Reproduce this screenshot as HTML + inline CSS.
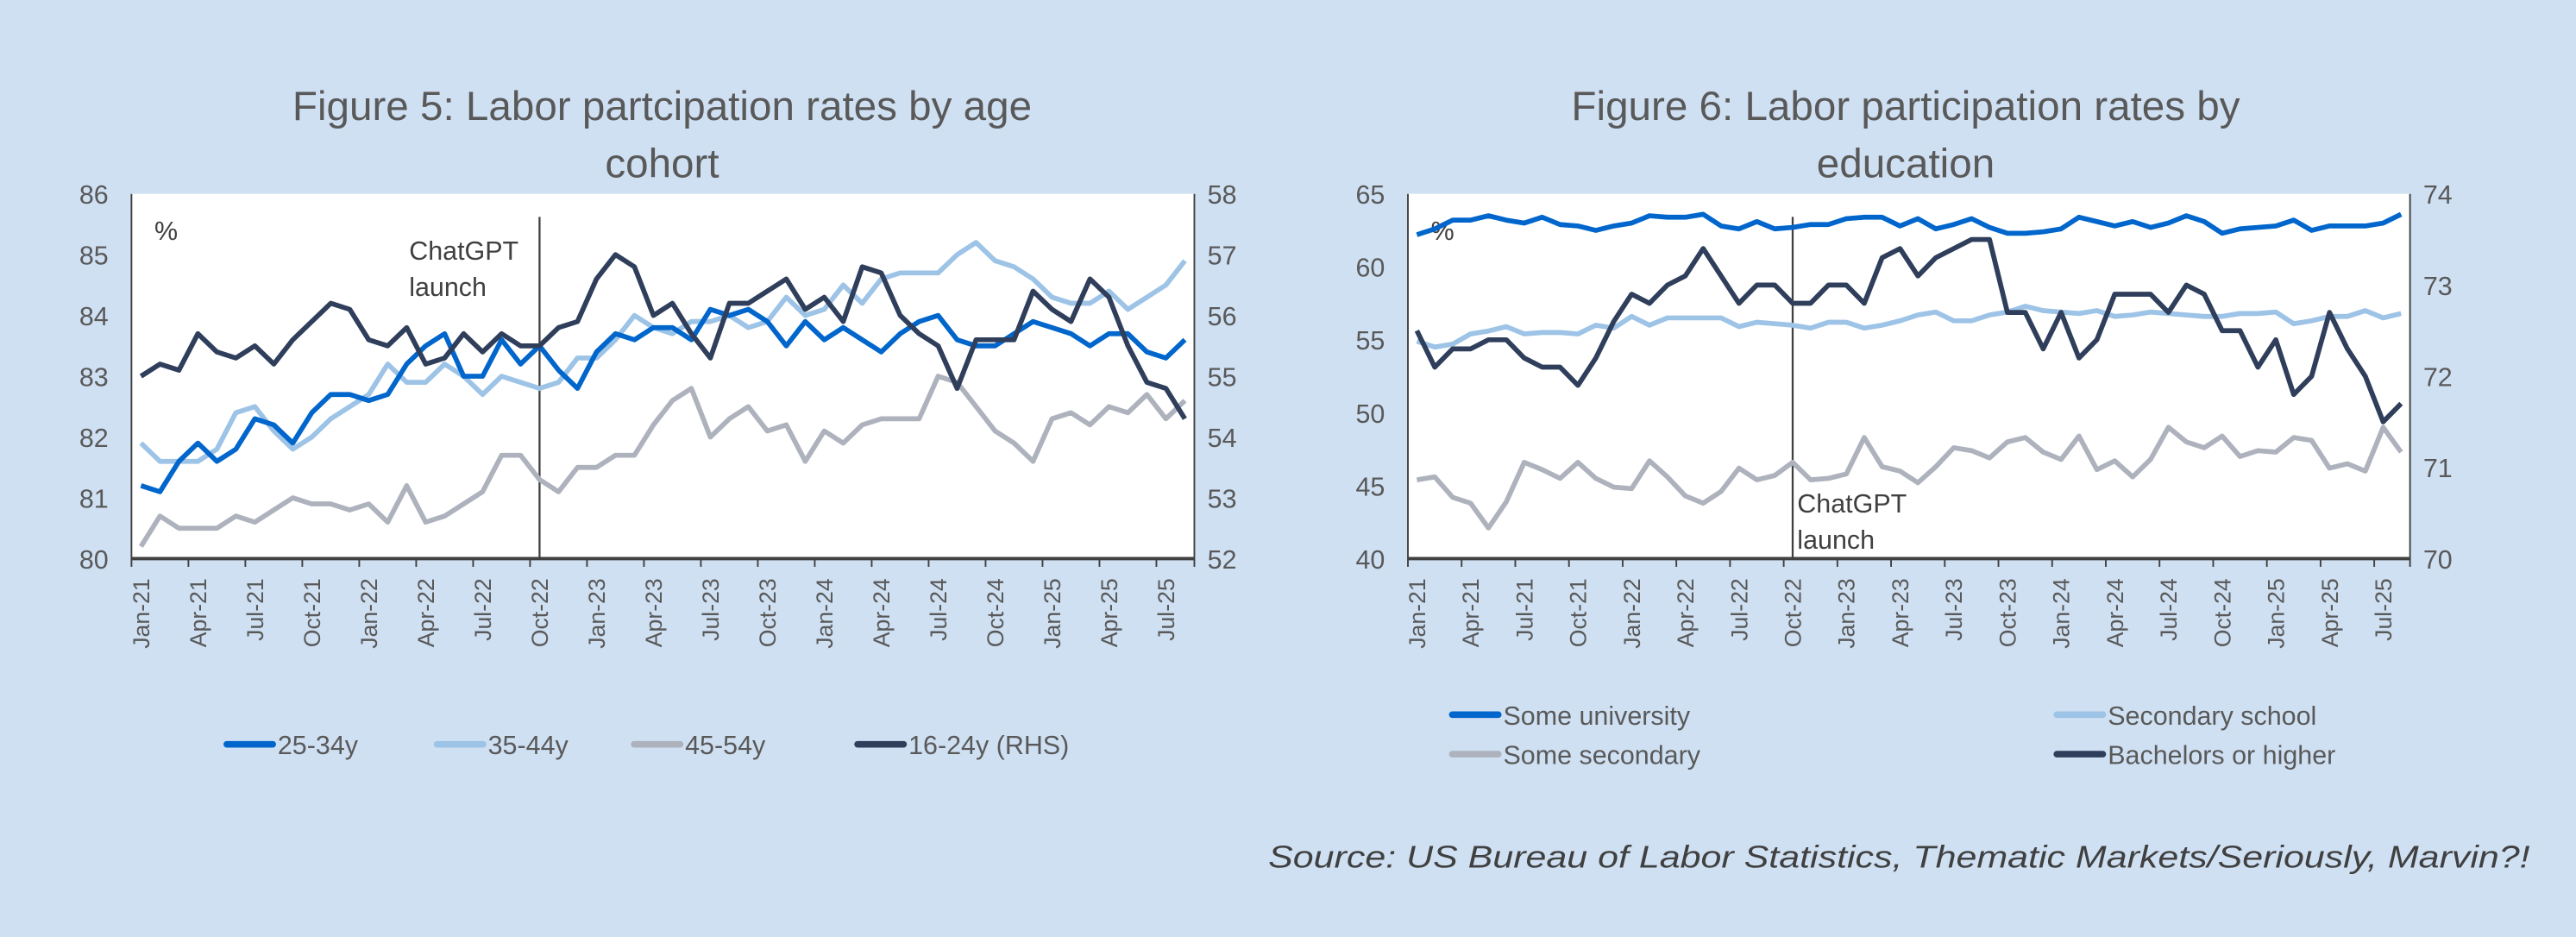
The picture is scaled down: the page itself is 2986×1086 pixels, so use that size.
<!DOCTYPE html>
<html><head><meta charset="utf-8"><style>
html,body{margin:0;padding:0;background:#cfe0f3;}
svg{display:block;font-family:"Liberation Sans",sans-serif;}
</style></head><body>
<svg id="fig" width="2986" height="1086" viewBox="0 0 1568 570.3" xmlns="http://www.w3.org/2000/svg">
<rect x="0" y="0" width="1568" height="570.3" fill="#cfe0f3"/>
<text x="403" y="73" text-anchor="middle" font-size="25" fill="#595959">Figure 5: Labor partcipation rates by age</text>
<text x="403" y="108" text-anchor="middle" font-size="25" fill="#595959">cohort</text>
<text x="1160" y="73" text-anchor="middle" font-size="25" fill="#595959">Figure 6: Labor participation rates by</text>
<text x="1160" y="108" text-anchor="middle" font-size="25" fill="#595959">education</text>
<g id="c1"></g>
<g id="c2"></g>
<text x="1540" y="528" text-anchor="end" font-size="19" font-style="italic" fill="#404040" textLength="768" lengthAdjust="spacingAndGlyphs">Source: US Bureau of Labor Statistics, Thematic Markets/Seriously, Marvin?!</text>
</svg>
<script>
const months = ["Jan","Feb","Mar","Apr","May","Jun","Jul","Aug","Sep","Oct","Nov","Dec"];
const categories = [];
for (let y = 21; y <= 25; y++) for (let m = 0; m < 12; m++) { if (y === 25 && m > 7) break; categories.push(months[m] + "-" + y); }
const age2534 = [81.2,81.1,81.6,81.9,81.6,81.8,82.3,82.2,81.9,82.4,82.7,82.7,82.6,82.7,83.2,83.5,83.7,83.0,83.0,83.6,83.2,83.5,83.1,82.8,83.4,83.7,83.6,83.8,83.8,83.6,84.1,84.0,84.1,83.9,83.5,83.9,83.6,83.8,83.6,83.4,83.7,83.9,84.0,83.6,83.5,83.5,83.7,83.9,83.8,83.7,83.5,83.7,83.7,83.4,83.3,83.6];
const age3544 = [81.9,81.6,81.6,81.6,81.8,82.4,82.5,82.1,81.8,82.0,82.3,82.5,82.7,83.2,82.9,82.9,83.2,83.0,82.7,83.0,82.9,82.8,82.9,83.3,83.3,83.6,84.0,83.8,83.7,83.9,83.9,84.0,83.8,83.9,84.3,84.0,84.1,84.5,84.2,84.6,84.7,84.7,84.7,85.0,85.2,84.9,84.8,84.6,84.3,84.2,84.2,84.4,84.1,84.3,84.5,84.9];
const age4554 = [80.2,80.7,80.5,80.5,80.5,80.7,80.6,80.8,81.0,80.9,80.9,80.8,80.9,80.6,81.2,80.6,80.7,80.9,81.1,81.7,81.7,81.3,81.1,81.5,81.5,81.7,81.7,82.2,82.6,82.8,82.0,82.3,82.5,82.1,82.2,81.6,82.1,81.9,82.2,82.3,82.3,82.3,83.0,82.9,82.5,82.1,81.9,81.6,82.3,82.4,82.2,82.5,82.4,82.7,82.3,82.6];
const age1624 = [55.0,55.2,55.1,55.7,55.4,55.3,55.5,55.2,55.6,55.9,56.2,56.1,55.6,55.5,55.8,55.2,55.3,55.7,55.4,55.7,55.5,55.5,55.8,55.9,56.6,57.0,56.8,56.0,56.2,55.7,55.3,56.2,56.2,56.4,56.6,56.1,56.3,55.9,56.8,56.7,56.0,55.7,55.5,54.8,55.6,55.6,55.6,56.4,56.1,55.9,56.6,56.3,55.5,54.9,54.8,54.3];
const someUniversity = [62.2,62.6,63.2,63.2,63.5,63.2,63.0,63.4,62.9,62.8,62.5,62.8,63.0,63.5,63.4,63.4,63.6,62.8,62.6,63.1,62.6,62.7,62.9,62.9,63.3,63.4,63.4,62.8,63.3,62.6,62.9,63.3,62.7,62.3,62.3,62.4,62.6,63.4,63.1,62.8,63.1,62.7,63.0,63.5,63.1,62.3,62.6,62.7,62.8,63.2,62.5,62.8,62.8,62.8,63.0,63.6];
const secondarySchool = [54.9,54.5,54.7,55.4,55.6,55.9,55.4,55.5,55.5,55.4,56.0,55.8,56.6,56.0,56.5,56.5,56.5,56.5,55.9,56.2,56.1,56.0,55.8,56.2,56.2,55.8,56.0,56.3,56.7,56.9,56.3,56.3,56.7,56.9,57.3,57.0,56.9,56.8,57.0,56.6,56.7,56.9,56.8,56.7,56.6,56.6,56.8,56.8,56.9,56.1,56.3,56.6,56.6,57.0,56.5,56.8];
const someSecondary = [45.4,45.6,44.2,43.8,42.1,43.9,46.6,46.1,45.5,46.6,45.5,44.9,44.8,46.7,45.6,44.3,43.8,44.6,46.2,45.4,45.7,46.6,45.4,45.5,45.8,48.3,46.3,46.0,45.2,46.3,47.6,47.4,46.9,48.0,48.3,47.3,46.8,48.4,46.1,46.7,45.6,46.8,49.0,48.0,47.6,48.4,47.0,47.4,47.3,48.3,48.1,46.2,46.5,46.0,49.0,47.3];
const bachelors = [72.5,72.1,72.3,72.3,72.4,72.4,72.2,72.1,72.1,71.9,72.2,72.6,72.9,72.8,73.0,73.1,73.4,73.1,72.8,73.0,73.0,72.8,72.8,73.0,73.0,72.8,73.3,73.4,73.1,73.3,73.4,73.5,73.5,72.7,72.7,72.3,72.7,72.2,72.4,72.9,72.9,72.9,72.7,73.0,72.9,72.5,72.5,72.1,72.4,71.8,72.0,72.7,72.3,72.0,71.5,71.7];
const c1LeftTicks = [80,81,82,83,84,85,86];
const c1RightTicks = [52,53,54,55,56,57,58];
const c2LeftTicks = [40,45,50,55,60,65];
const c2RightTicks = [70,71,72,73,74];
const launchIndex = 21;

const NS = "http://www.w3.org/2000/svg";
function mk(parent, tag, attrs, text) {
  const e = document.createElementNS(NS, tag);
  for (const k in attrs) e.setAttribute(k, attrs[k]);
  if (text !== undefined) e.textContent = text;
  parent.appendChild(e);
  return e;
}

function drawChart(g, cfg) {
  const n = categories.length;
  const bw = (cfg.x1 - cfg.x0) / n;
  const xAt = i => cfg.x0 + bw * (i + 0.5);
  const yL = v => cfg.y1 - (v - cfg.lMin) / (cfg.lMax - cfg.lMin) * (cfg.y1 - cfg.y0);
  const yR = v => cfg.y1 - (v - cfg.rMin) / (cfg.rMax - cfg.rMin) * (cfg.y1 - cfg.y0);
  const plot = mk(g, "rect", {x: cfg.x0, y: cfg.y0, width: cfg.x1 - cfg.x0, height: cfg.y1 - cfg.y0, fill: "#ffffff"});
  
  
  cfg.lTicks.forEach(v => {
    const t = mk(g, "text", {x: cfg.x0 - 14, y: yL(v) + 6, "text-anchor": "end", "font-size": 16, fill: "#595959"}, v);
    
    
  });
  cfg.rTicks.forEach(v => {
    const t = mk(g, "text", {x: cfg.x1 + 8, y: yR(v) + 6, "font-size": 16, fill: "#595959"}, v);
    
    
  });
  const la = mk(g, "line", {x1: cfg.x0, y1: cfg.y0, x2: cfg.x0, y2: cfg.y1, stroke: "#404040", "stroke-width": 1});
  
  
  const ra = mk(g, "line", {x1: cfg.x1, y1: cfg.y0, x2: cfg.x1, y2: cfg.y1, stroke: "#404040", "stroke-width": 1});
  
  
  const ba = mk(g, "line", {x1: cfg.x0, y1: cfg.y1, x2: cfg.x1, y2: cfg.y1, stroke: "#404040", "stroke-width": 2});
  
  
  for (let i = 0; i <= n; i += 3) {
    const tk = mk(g, "line", {x1: cfg.x0 + bw * i, y1: cfg.y1, x2: cfg.x0 + bw * i, y2: cfg.y1 + 5, stroke: "#404040", "stroke-width": 1});
    
    
  }
  const tk2 = mk(g, "line", {x1: cfg.x1, y1: cfg.y1, x2: cfg.x1, y2: cfg.y1 + 5, stroke: "#404040", "stroke-width": 1});
  
  
  for (let i = 0; i < n; i += 3) {
    const x = xAt(i) + 5;
    const t = mk(g, "text", {x: 0, y: 0, transform: `translate(${x},${cfg.y1 + 12}) rotate(-90)`, "text-anchor": "end", "font-size": 14, fill: "#595959"}, categories[i]);
    
    
  }
  const pct = mk(g, "text", {x: cfg.x0 + 14, y: cfg.y0 + 28, "font-size": 16, fill: "#404040"}, "%");
  
  
  const lx = xAt(launchIndex);
  const ll = mk(g, "line", {x1: lx, y1: cfg.y0 + 14, x2: lx, y2: cfg.y1, stroke: "#404040", "stroke-width": 1.2});
  
  
  const a1 = mk(g, "text", {x: cfg.annX, y: cfg.annY, "font-size": 16, fill: "#404040"}, "ChatGPT");
  
  
  const a2 = mk(g, "text", {x: cfg.annX, y: cfg.annY + 22, "font-size": 16, fill: "#404040"}, "launch");
  
  
  cfg.series.forEach(s => {
    const ys = s.axis === "R" ? yR : yL;
    const d = s.values.map((v, i) => (i ? "L" : "M") + xAt(i).toFixed(2) + "," + ys(v).toFixed(2)).join("");
    const p = mk(g, "path", {d: d, fill: "none", stroke: s.color, "stroke-width": 3, "stroke-linejoin": "round"});
    
    
  });
  cfg.legend.forEach(L => {
    const ln = mk(g, "line", {x1: L.x, y1: L.y, x2: L.x + 28, y2: L.y, stroke: L.color, "stroke-width": 4, "stroke-linecap": "round"});
    
    
    const t = mk(g, "text", {x: L.x + 31, y: L.y + 6, "font-size": 16, fill: "#595959"}, L.label);
    
    
  });
}

const BLUE = "#0066cc", LIGHT = "#9dc3e6", GREY = "#adb2bd", DARK = "#2f3e5b";
drawChart(document.getElementById("c1"), {
  x0: 80, x1: 727, y0: 118, y1: 340, lMin: 80, lMax: 86, rMin: 52, rMax: 58,
  lTicks: c1LeftTicks, rTicks: c1RightTicks, annX: 249, annY: 158,
  series: [
    {name: "series-45-54y", values: age4554, color: GREY, axis: "L"},
    {name: "series-35-44y", values: age3544, color: LIGHT, axis: "L"},
    {name: "series-25-34y", values: age2534, color: BLUE, axis: "L"},
    {name: "series-16-24y-rhs", values: age1624, color: DARK, axis: "R"}
  ],
  legend: [
    {x: 138, y: 453, color: BLUE, label: "25-34y"},
    {x: 266, y: 453, color: LIGHT, label: "35-44y"},
    {x: 386, y: 453, color: GREY, label: "45-54y"},
    {x: 522, y: 453, color: DARK, label: "16-24y (RHS)"}
  ]
});
drawChart(document.getElementById("c2"), {
  x0: 857, x1: 1467, y0: 118, y1: 340, lMin: 40, lMax: 65, rMin: 70, rMax: 74,
  lTicks: c2LeftTicks, rTicks: c2RightTicks, annX: 1094, annY: 312,
  series: [
    {name: "series-some-secondary", values: someSecondary, color: GREY, axis: "L"},
    {name: "series-secondary-school", values: secondarySchool, color: LIGHT, axis: "L"},
    {name: "series-some-university", values: someUniversity, color: BLUE, axis: "L"},
    {name: "series-bachelors-or-higher", values: bachelors, color: DARK, axis: "R"}
  ],
  legend: [
    {x: 884, y: 435, color: BLUE, label: "Some university"},
    {x: 1252, y: 435, color: LIGHT, label: "Secondary school"},
    {x: 884, y: 459, color: GREY, label: "Some secondary"},
    {x: 1252, y: 459, color: DARK, label: "Bachelors or higher"}
  ]
});
</script>
</body></html>
